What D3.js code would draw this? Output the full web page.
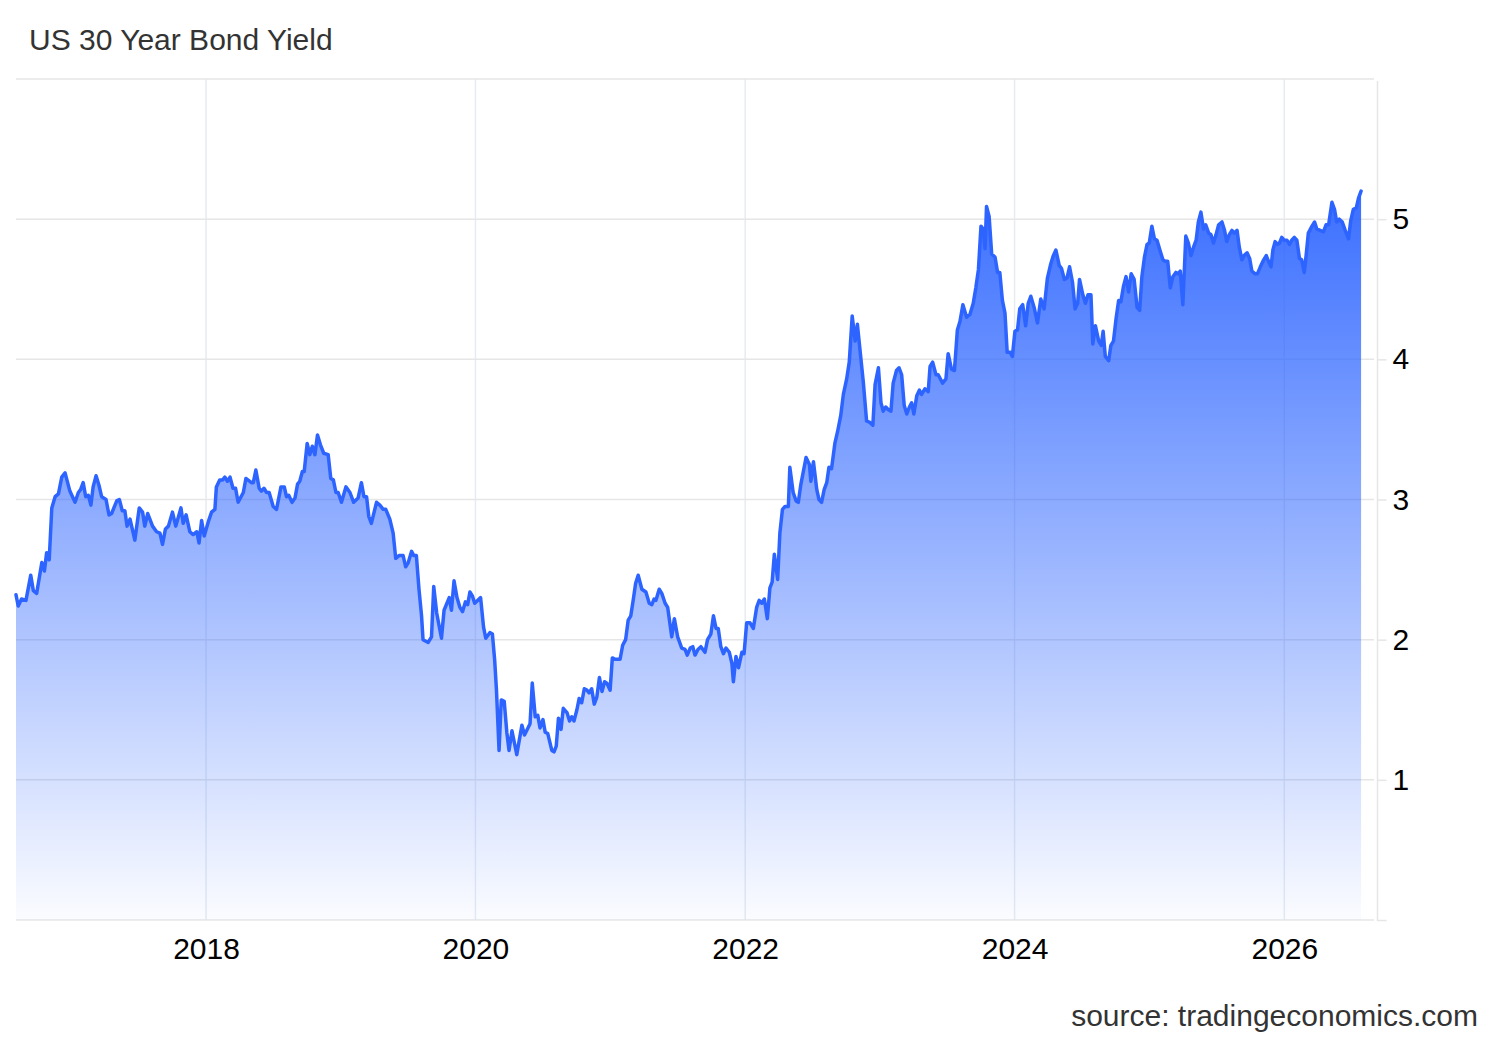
<!DOCTYPE html>
<html>
<head>
<meta charset="utf-8">
<script src="https://cdn.jsdelivr.net/npm/d3@7"></script>
<style>
  body { margin: 0; background: #fff; }
  text { font-family: Arial, "Liberation Sans", sans-serif; }
</style>
</head>
<body>
<div id="chart"></div>
<script>
// weekly-ish readings of the US 30Y yield
const dates = [
  "2016-08-04","2016-08-10","2016-08-19","2016-08-31","2016-09-13","2016-09-20","2016-09-29","2016-10-13","2016-10-20","2016-10-26",
  "2016-11-02","2016-11-09","2016-11-18","2016-11-27","2016-12-06","2016-12-15","2016-12-28","2017-01-11","2017-01-20","2017-01-26",
  "2017-02-02","2017-02-09","2017-02-16","2017-02-23","2017-03-01","2017-03-09","2017-03-17","2017-03-24","2017-04-05","2017-04-13",
  "2017-04-20","2017-05-04","2017-05-11","2017-05-19","2017-05-26","2017-06-01","2017-06-09","2017-06-22","2017-07-04","2017-07-13",
  "2017-07-19","2017-07-27","2017-08-09","2017-08-20","2017-08-29","2017-09-05","2017-09-13","2017-09-21","2017-10-02","2017-10-11",
  "2017-10-25","2017-10-31","2017-11-08","2017-11-18","2017-11-27","2017-12-07","2017-12-13","2017-12-20","2017-12-27","2018-01-07",
  "2018-01-16","2018-01-25","2018-01-29","2018-02-07","2018-02-15","2018-02-21","2018-02-28","2018-03-07","2018-03-15","2018-03-22",
  "2018-03-29","2018-04-12","2018-04-19","2018-05-04","2018-05-09","2018-05-16","2018-05-25","2018-05-31","2018-06-07","2018-06-14",
  "2018-06-21","2018-07-02","2018-07-11","2018-07-23","2018-08-01","2018-08-07","2018-08-13","2018-08-22","2018-08-30","2018-09-06",
  "2018-09-12","2018-09-19","2018-09-24","2018-10-02","2018-10-09","2018-10-16","2018-10-23","2018-10-30","2018-11-07","2018-11-16",
  "2018-11-28","2018-12-05","2018-12-12","2018-12-19","2018-12-25","2019-01-03","2019-01-15","2019-01-26","2019-02-05","2019-02-17",
  "2019-02-26","2019-03-05","2019-03-12","2019-03-18","2019-03-25","2019-04-08","2019-04-17","2019-04-26","2019-05-03","2019-05-14",
  "2019-05-23","2019-05-30","2019-06-08","2019-06-19","2019-06-26","2019-07-03","2019-07-12","2019-07-18","2019-07-25","2019-08-01",
  "2019-08-08","2019-08-12","2019-08-26","2019-09-04","2019-09-10","2019-09-18","2019-10-01","2019-10-08","2019-10-22","2019-10-28",
  "2019-11-04","2019-11-12","2019-11-20","2019-11-27","2019-12-05","2019-12-11","2019-12-17","2019-12-24","2019-12-30","2020-01-15",
  "2020-01-23","2020-01-29","2020-02-09","2020-02-16","2020-02-22","2020-02-27","2020-03-05","2020-03-11","2020-03-19","2020-03-26",
  "2020-04-01","2020-04-09","2020-04-22","2020-05-06","2020-05-13","2020-05-28","2020-06-03","2020-06-11","2020-06-18","2020-06-24",
  "2020-07-02","2020-07-08","2020-07-15","2020-07-26","2020-08-01","2020-08-07","2020-08-13","2020-08-20","2020-08-26","2020-09-05",
  "2020-09-12","2020-09-18","2020-09-24","2020-10-02","2020-10-08","2020-10-15","2020-10-22","2020-10-29","2020-11-04","2020-11-11",
  "2020-11-18","2020-11-25","2020-12-02","2020-12-09","2020-12-16","2020-12-22","2020-12-31","2021-01-06","2021-01-13","2021-01-27",
  "2021-02-03","2021-02-11","2021-02-18","2021-02-25","2021-03-04","2021-03-10","2021-03-17","2021-03-27","2021-04-07","2021-04-16",
  "2021-04-23","2021-04-29","2021-05-04","2021-05-13","2021-05-20","2021-05-29","2021-06-05","2021-06-16","2021-06-23","2021-07-02",
  "2021-07-13","2021-07-22","2021-07-28","2021-08-05","2021-08-12","2021-08-18","2021-08-26","2021-09-03","2021-09-14","2021-09-21",
  "2021-09-30","2021-10-07","2021-10-14","2021-10-20","2021-10-27","2021-11-03","2021-11-10","2021-11-19","2021-11-26","2021-11-30",
  "2021-12-07","2021-12-14","2021-12-23","2021-12-29","2022-01-05","2022-01-14","2022-01-23","2022-02-01","2022-02-08","2022-02-15",
  "2022-02-22","2022-03-02","2022-03-09","2022-03-15","2022-03-21","2022-03-30","2022-04-05","2022-04-12","2022-04-19","2022-04-28",
  "2022-05-02","2022-05-11","2022-05-19","2022-05-25","2022-06-01","2022-06-15","2022-06-24","2022-06-28","2022-07-05","2022-07-14",
  "2022-07-20","2022-07-27","2022-08-03","2022-08-10","2022-08-16","2022-08-23","2022-09-01","2022-09-08","2022-09-17","2022-09-24",
  "2022-10-03","2022-10-10","2022-10-18","2022-10-26","2022-11-01","2022-11-08","2022-11-17","2022-11-26","2022-12-05","2022-12-13",
  "2022-12-19","2022-12-28","2023-01-04","2023-01-10","2023-01-17","2023-01-24","2023-01-31","2023-02-06","2023-02-15","2023-02-22",
  "2023-03-01","2023-03-08","2023-03-15","2023-03-22","2023-03-28","2023-04-03","2023-04-11","2023-04-18","2023-04-24","2023-05-03",
  "2023-05-12","2023-05-17","2023-05-24","2023-06-02","2023-06-08","2023-06-20","2023-06-29","2023-07-05","2023-07-14","2023-07-22",
  "2023-07-30","2023-08-06","2023-08-14","2023-08-24","2023-09-02","2023-09-11","2023-09-18","2023-09-25","2023-10-02","2023-10-08",
  "2023-10-13","2023-10-17","2023-10-24","2023-10-31","2023-11-09","2023-11-16","2023-11-22","2023-11-29","2023-12-06","2023-12-12",
  "2023-12-20","2023-12-26","2024-01-02","2024-01-09","2024-01-15","2024-01-23","2024-01-31","2024-02-07","2024-02-14","2024-02-23",
  "2024-03-03","2024-03-12","2024-03-21","2024-03-30","2024-04-08","2024-04-15","2024-04-22","2024-05-01","2024-05-07","2024-05-15",
  "2024-05-22","2024-05-29","2024-06-06","2024-06-13","2024-06-20","2024-06-25","2024-07-04","2024-07-11","2024-07-18","2024-07-26",
  "2024-07-31","2024-08-07","2024-08-16","2024-08-23","2024-08-28","2024-09-03","2024-09-12","2024-09-18","2024-09-25","2024-10-02",
  "2024-10-09","2024-10-15","2024-10-22","2024-10-29","2024-11-05","2024-11-12","2024-11-20","2024-11-28","2024-12-05","2024-12-11",
  "2024-12-18","2024-12-25","2024-12-31","2025-01-07","2025-01-14","2025-01-21","2025-01-30","2025-02-06","2025-02-12","2025-02-19",
  "2025-02-26","2025-03-05","2025-03-13","2025-03-19","2025-03-25","2025-04-01","2025-04-09","2025-04-16","2025-04-23","2025-04-30",
  "2025-05-07","2025-05-13","2025-05-20","2025-05-27","2025-06-02","2025-06-10","2025-06-16","2025-06-23","2025-06-30","2025-07-07",
  "2025-07-16","2025-07-23","2025-07-29","2025-08-05","2025-08-12","2025-08-18","2025-08-26","2025-09-01","2025-09-08","2025-09-14",
  "2025-09-22","2025-09-29","2025-10-05","2025-10-14","2025-10-20","2025-10-28","2025-11-06","2025-11-13","2025-11-19","2025-11-26",
  "2025-12-01","2025-12-07","2025-12-14","2025-12-19","2025-12-25","2026-01-01","2026-01-08","2026-01-15","2026-01-21","2026-01-28",
  "2026-02-04","2026-02-11","2026-02-17","2026-02-24","2026-03-01","2026-03-07","2026-03-17","2026-03-24","2026-03-30","2026-04-08",
  "2026-04-17","2026-04-24","2026-05-01","2026-05-10","2026-05-17","2026-05-23","2026-05-30","2026-06-07","2026-06-15","2026-06-24",
  "2026-06-30","2026-07-07","2026-07-15","2026-07-21","2026-07-28"
];
const yields = [
  2.32,2.24,2.29,2.28,2.46,2.35,2.33,2.55,2.49,2.62,
  2.57,2.94,3.02,3.04,3.16,3.19,3.06,2.98,3.05,3.07,
  3.12,3.02,3.03,2.96,3.09,3.17,3.10,3.02,3.00,2.89,
  2.90,2.99,3.00,2.92,2.92,2.81,2.86,2.71,2.94,2.91,
  2.81,2.90,2.81,2.77,2.76,2.68,2.79,2.81,2.91,2.81,
  2.94,2.83,2.89,2.77,2.75,2.77,2.69,2.85,2.74,2.84,
  2.91,2.93,3.09,3.14,3.14,3.16,3.13,3.16,3.08,3.08,
  2.98,3.05,3.15,3.12,3.12,3.21,3.08,3.06,3.08,3.05,
  3.05,2.95,2.93,3.09,3.09,3.02,3.03,2.98,3.01,3.11,
  3.13,3.20,3.20,3.40,3.32,3.38,3.32,3.46,3.39,3.33,
  3.32,3.15,3.14,3.05,3.05,2.98,3.09,3.05,2.98,3.01,
  3.12,3.02,3.02,2.88,2.83,2.98,2.96,2.93,2.93,2.86,
  2.76,2.58,2.60,2.60,2.52,2.55,2.63,2.60,2.60,2.36,
  2.17,2.00,1.98,2.02,2.38,2.19,2.01,2.21,2.30,2.21,
  2.42,2.30,2.23,2.20,2.27,2.25,2.34,2.31,2.26,2.30,
  2.09,2.01,2.05,2.04,1.86,1.64,1.21,1.57,1.56,1.34,
  1.21,1.35,1.18,1.39,1.32,1.40,1.69,1.45,1.46,1.37,
  1.43,1.34,1.33,1.21,1.20,1.24,1.44,1.36,1.51,1.48,
  1.42,1.45,1.42,1.50,1.58,1.55,1.65,1.64,1.62,1.65,
  1.54,1.59,1.73,1.63,1.70,1.69,1.64,1.87,1.86,1.86,
  1.96,2.00,2.14,2.17,2.29,2.40,2.46,2.36,2.34,2.26,
  2.25,2.29,2.28,2.36,2.33,2.26,2.23,2.02,2.15,2.02,
  1.94,1.93,1.89,1.94,1.95,1.89,1.93,1.95,1.91,2.00,
  2.04,2.17,2.08,2.08,1.95,1.90,1.94,1.91,1.83,1.70,
  1.88,1.80,1.91,1.90,2.12,2.12,2.08,2.23,2.28,2.26,
  2.29,2.15,2.37,2.41,2.61,2.43,2.76,2.93,2.95,2.95,
  3.23,3.05,2.99,2.98,3.11,3.30,3.25,3.13,3.27,3.07,
  3.00,2.98,3.07,3.12,3.23,3.22,3.40,3.48,3.60,3.75,
  3.86,3.98,4.31,4.13,4.25,4.07,3.84,3.56,3.55,3.53,
  3.82,3.94,3.69,3.63,3.66,3.64,3.63,3.83,3.92,3.94,
  3.89,3.67,3.61,3.66,3.69,3.61,3.74,3.78,3.75,3.79,
  3.77,3.95,3.98,3.89,3.89,3.83,3.86,4.04,3.93,3.92,
  4.21,4.27,4.39,4.30,4.32,4.40,4.51,4.64,4.95,4.93,
  4.79,5.09,5.02,4.75,4.73,4.62,4.62,4.42,4.33,4.05,
  4.05,4.02,4.20,4.21,4.36,4.39,4.24,4.40,4.45,4.37,
  4.26,4.43,4.36,4.58,4.68,4.74,4.78,4.67,4.65,4.57,
  4.58,4.66,4.55,4.36,4.40,4.57,4.46,4.40,4.46,4.46,
  4.11,4.24,4.13,4.10,4.20,4.02,3.99,4.10,4.13,4.29,
  4.42,4.41,4.52,4.59,4.48,4.61,4.57,4.37,4.35,4.59,
  4.73,4.82,4.83,4.95,4.86,4.85,4.77,4.71,4.70,4.70,
  4.51,4.59,4.62,4.61,4.63,4.39,4.88,4.83,4.74,4.80,
  4.85,4.98,5.05,4.93,4.96,4.90,4.89,4.83,4.89,4.96,
  4.98,4.92,4.84,4.89,4.92,4.90,4.92,4.80,4.71,4.74,
  4.76,4.72,4.63,4.61,4.61,4.66,4.71,4.74,4.70,4.66,
  4.78,4.84,4.82,4.83,4.87,4.85,4.85,4.82,4.85,4.87,
  4.85,4.72,4.71,4.62,4.74,4.90,4.95,4.98,4.93,4.92,
  4.91,4.96,4.96,5.12,5.07,4.98,5.00,4.98,4.92,4.86,
  4.99,5.07,5.08,5.15,5.20
];
const xTickYears = ["2018", "2020", "2022", "2024", "2026"];
const yTickValues = [1, 2, 3, 4, 5];
const xStart = "2016-08-04", xEnd = "2026-09-01";

const parse = d3.timeParse("%Y-%m-%d");
const data = dates.map((d, i) => ({date: parse(d), value: yields[i]}));
if (dates.length !== yields.length) console.error("length mismatch", dates.length, yields.length);

const W = 1500, H = 1040;
const plotLeft = 16, plotRight = 1374, plotTop = 79, plotBottom = 920;

const svg = d3.select("#chart").append("svg")
    .attr("width", W)
    .attr("height", H);

const x = d3.scaleTime()
    .domain([parse(xStart), parse(xEnd)])
    .range([plotLeft, plotRight]);

const y = d3.scaleLinear()
    .domain([0, 6])
    .range([plotBottom, plotTop]);

const xTicks = xTickYears.map(d => d3.timeParse("%Y")(d));

// vertical grid
svg.append("g")
    .selectAll("line")
    .data(xTicks)
    .join("line")
      .attr("x1", d => x(d)).attr("x2", d => x(d))
      .attr("y1", plotTop).attr("y2", plotBottom)
      .attr("stroke", "#e6ebf3")
      .attr("stroke-width", 1.5);

// horizontal grid
svg.append("g")
    .selectAll("line")
    .data(d3.range(0, 7))
    .join("line")
      .attr("x1", plotLeft).attr("x2", plotRight)
      .attr("y1", d => y(d)).attr("y2", d => y(d))
      .attr("stroke", "#e6e6e6")
      .attr("stroke-width", 1.5);

// gradient fill
const grad = svg.append("defs").append("linearGradient")
    .attr("id", "fillGrad")
    .attr("gradientUnits", "userSpaceOnUse")
    .attr("x1", 0).attr("x2", 0)
    .attr("y1", y(d3.max(yields))).attr("y2", plotBottom);
grad.append("stop").attr("offset", 0).attr("stop-color", "#2962ff").attr("stop-opacity", 0.92);
grad.append("stop").attr("offset", 1).attr("stop-color", "#2962ff").attr("stop-opacity", 0.02);

svg.append("path")
    .datum(data)
    .attr("fill", "url(#fillGrad)")
    .attr("d", d3.area()
      .x(d => x(d.date))
      .y0(plotBottom)
      .y1(d => y(d.value)));

svg.append("path")
    .datum(data)
    .attr("fill", "none")
    .attr("stroke", "#2d64ff")
    .attr("stroke-width", 3.5)
    .attr("stroke-linejoin", "round")
    .attr("stroke-linecap", "round")
    .attr("d", d3.line()
      .x(d => x(d.date))
      .y(d => y(d.value)));

// right axis
const yAxis = svg.append("g")
    .attr("transform", `translate(${plotRight + 3.5}, 0)`)
    .call(d3.axisRight(y).tickValues([0].concat(yTickValues)).tickSize(9).tickPadding(6)
      .tickFormat(d => d === 0 ? "" : d));
yAxis.select(".domain")
    .attr("d", `M0,${plotTop + 2}V${plotBottom + 1}`)
    .attr("stroke", "#e6e6e6")
    .attr("stroke-width", 1.5);
yAxis.selectAll(".tick line").attr("stroke", "#e6e6e6").attr("stroke-width", 1.5);
yAxis.selectAll(".tick text")
    .attr("fill", "#000")
    .style("font-size", "30px")
    .style("font-family", "Arial, 'Liberation Sans', sans-serif");

// bottom axis
const xAxis = svg.append("g")
    .attr("transform", `translate(0, ${plotBottom})`)
    .call(d3.axisBottom(x).tickValues(xTicks).tickSize(0).tickPadding(18)
      .tickFormat(d3.timeFormat("%Y")));
xAxis.select(".domain").remove();
xAxis.selectAll(".tick text")
    .attr("fill", "#000")
    .style("font-size", "30px")
    .style("font-family", "Arial, 'Liberation Sans', sans-serif");

// title and source
svg.append("text")
    .attr("x", 29).attr("y", 50)
    .attr("fill", "#333")
    .style("font-size", "30px")
    .text("US 30 Year Bond Yield");

svg.append("text")
    .attr("x", 1478).attr("y", 1026)
    .attr("text-anchor", "end")
    .attr("fill", "#333")
    .style("font-size", "30px")
    .text("source: tradingeconomics.com");
</script>
</body>
</html>
